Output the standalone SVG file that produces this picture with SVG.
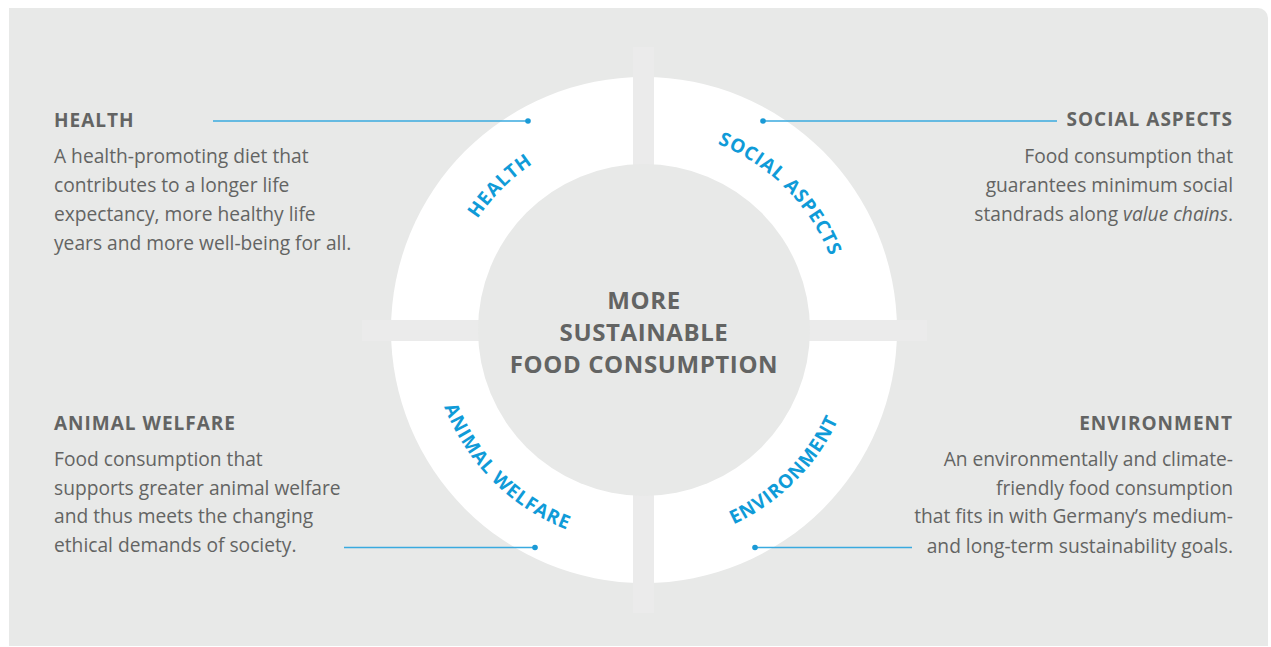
<svg xmlns="http://www.w3.org/2000/svg" width="1271" height="647" viewBox="0 0 1271 647">
  <style>
    .head { font-family: "Open Sans", "Liberation Sans", sans-serif; font-weight: 700; font-size: 19px; fill: #636463; letter-spacing: 1px; }
    .body { font-family: "Open Sans", "Liberation Sans", sans-serif; font-size: 19.2px; fill: #636463; }
    .center { font-family: "Open Sans", "Liberation Sans", sans-serif; font-weight: 700; font-size: 24px; fill: #636463; text-anchor: middle; letter-spacing: 0.6px; }
    .arc { font-family: "Open Sans", "Liberation Sans", sans-serif; font-weight: 700; font-size: 19px; fill: #0f9bd8; letter-spacing: 0.8px; }
    .end { text-anchor: end; }
    .conn { stroke: #3aaadf; stroke-width: 1.5; fill: none; }
    .dot { fill: #1a9ad6; }
    .bar { fill: #ebebeb; }
  </style>
  <defs>
    <!-- top labels: clockwise, baseline r=200 -->
    <path id="pHealth" d="M 450.8 381.8 A 200 200 0 0 1 695.8 136.8"/>
    <path id="pSocial" d="M 592.2 136.8 A 200 200 0 0 1 837.2 381.8"/>
    <!-- bottom labels: counter-clockwise, baseline r=214 -->
    <path id="pAnimal" d="M 437.3 274.6 A 214 214 0 0 0 699.4 536.7"/>
    <path id="pEnv" d="M 588.6 536.7 A 214 214 0 0 0 850.7 274.6"/>
  </defs>

  <rect width="1271" height="647" fill="#ffffff"/>
  <path d="M9 8 H1258 A10 10 0 0 1 1268 18 V646 H9 Z" fill="#e8e9e8"/>

  <g id="ring">
    <circle cx="644" cy="330" r="253" fill="#ffffff"/>
    <rect class="bar" x="633" y="47" width="21" height="566"/>
    <rect class="bar" x="362" y="320" width="565" height="21"/>
    <circle cx="644" cy="330" r="166" fill="#e8e9e8"/>
  </g>

  <g id="center">
    <text class="center" x="644" y="308.5">MORE</text>
    <text class="center" x="644" y="340.5">SUSTAINABLE</text>
    <text class="center" x="644" y="372.5">FOOD CONSUMPTION</text>
  </g>

  <g id="ring-labels">
    <text class="arc"><textPath href="#pHealth" startOffset="50%" text-anchor="middle">HEALTH</textPath></text>
    <text class="arc"><textPath href="#pSocial" startOffset="50%" text-anchor="middle">SOCIAL ASPECTS</textPath></text>
    <text class="arc"><textPath href="#pAnimal" startOffset="50%" text-anchor="middle">ANIMAL WELFARE</textPath></text>
    <text class="arc"><textPath href="#pEnv" startOffset="50%" text-anchor="middle">ENVIRONMENT</textPath></text>
  </g>

  <g id="connectors">
    <line class="conn" x1="213" y1="121" x2="528" y2="121"/>
    <circle class="dot" cx="528" cy="121" r="2.8"/>
    <line class="conn" x1="763" y1="121" x2="1057" y2="121"/>
    <circle class="dot" cx="763" cy="121" r="2.8"/>
    <line class="conn" x1="344" y1="547.5" x2="535" y2="547.5"/>
    <circle class="dot" cx="535" cy="547.5" r="2.8"/>
    <line class="conn" x1="755" y1="547.5" x2="912" y2="547.5"/>
    <circle class="dot" cx="755" cy="547.5" r="2.8"/>
  </g>

  <g id="health">
    <text class="head" x="54" y="126.5">HEALTH</text>
    <text class="body" x="54" y="163">A health-promoting diet that</text>
    <text class="body" x="54" y="192">contributes to a longer life</text>
    <text class="body" x="54" y="221">expectancy, more healthy life</text>
    <text class="body" x="54" y="250">years and more well-being for all.</text>
  </g>

  <g id="social-aspects">
    <text class="head end" x="1233" y="126">SOCIAL ASPECTS</text>
    <text class="body end" x="1233" y="162.7">Food consumption that</text>
    <text class="body end" x="1233" y="191.7">guarantees minimum social</text>
    <text class="body end" x="1233" y="220.5">standrads along <tspan font-style="italic">value chains</tspan>.</text>
  </g>

  <g id="animal-welfare">
    <text class="head" x="54" y="429.5">ANIMAL WELFARE</text>
    <text class="body" x="54" y="466">Food consumption that</text>
    <text class="body" x="54" y="494.7">supports greater animal welfare</text>
    <text class="body" x="54" y="523.3">and thus meets the changing</text>
    <text class="body" x="54" y="552">ethical demands of society.</text>
  </g>

  <g id="environment">
    <text class="head end" x="1233" y="430">ENVIRONMENT</text>
    <text class="body end" x="1233" y="465.7">An environmentally and climate-</text>
    <text class="body end" x="1233" y="495">friendly food consumption</text>
    <text class="body end" x="1233" y="523.3">that fits in with Germany’s medium-</text>
    <text class="body end" x="1233" y="552.7">and long-term sustainability goals.</text>
  </g>
</svg>
